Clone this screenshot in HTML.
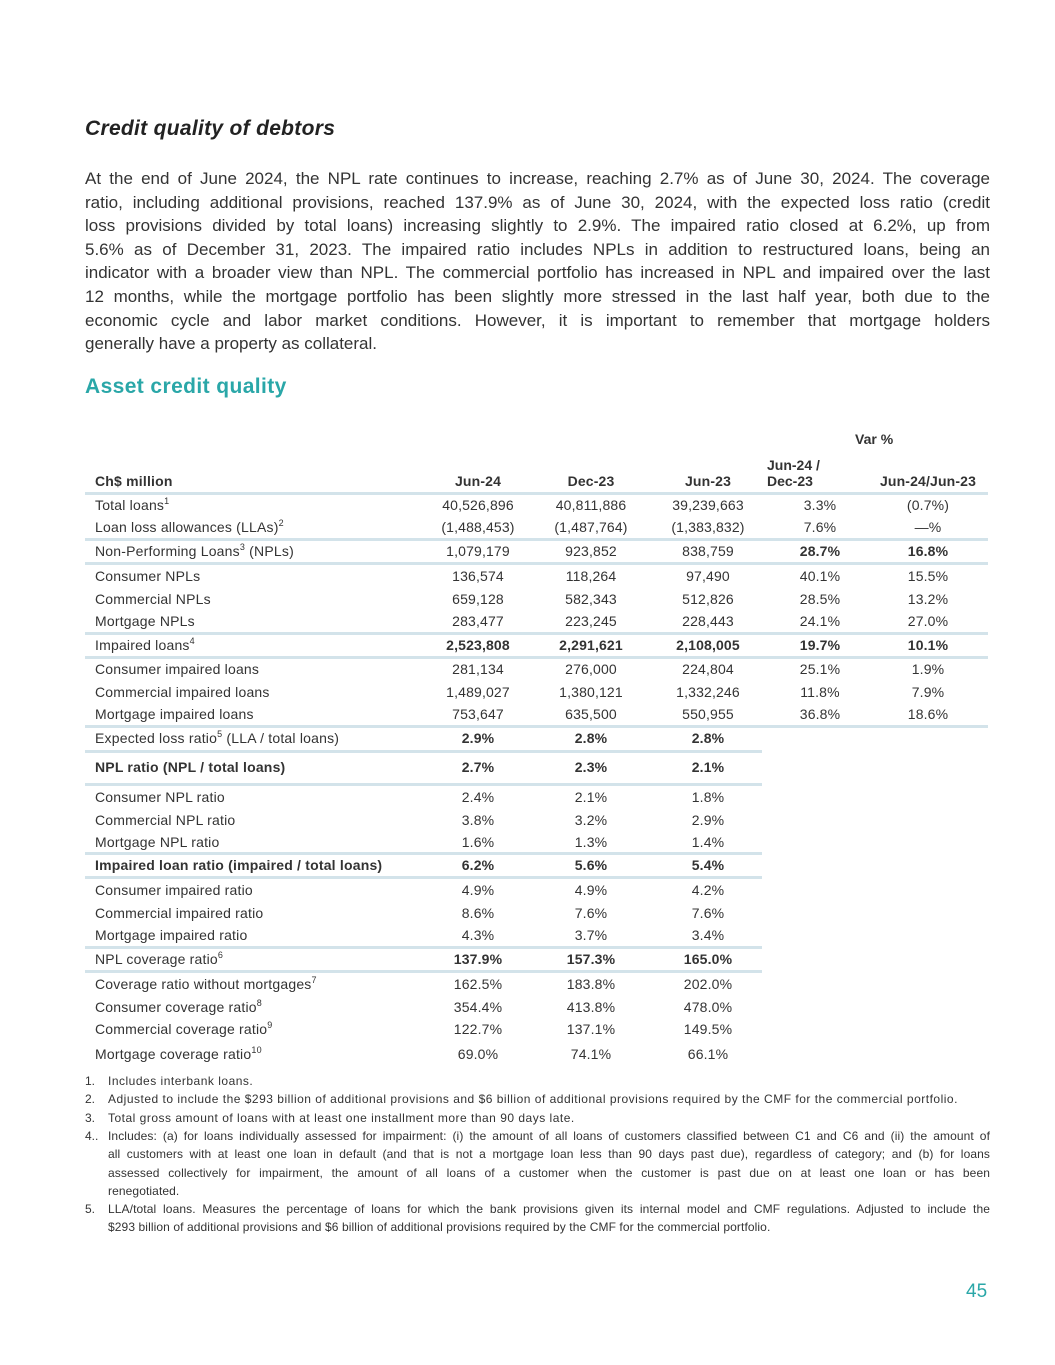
<!DOCTYPE html>
<html><head><meta charset="utf-8"><style>
body{margin:0;background:#fff;}
#p{position:relative;width:1055px;height:1365px;font-family:"Liberation Sans",sans-serif;color:#333;overflow:hidden}
.a{position:absolute;white-space:nowrap}
h1{position:absolute;left:85px;top:117px;margin:0;font-size:21px;font-style:italic;font-weight:bold;color:#222;letter-spacing:0.3px}
h2{position:absolute;left:85px;top:375px;margin:0;font-size:21px;font-weight:bold;color:#2aa7a8;letter-spacing:0.4px}
.para{position:absolute;left:85px;top:167px;width:905px;font-size:17px;line-height:23.6px;color:#333}
.para div,.jl{text-align:justify;text-align-last:justify;white-space:nowrap}
.para div.last,.jl.last{text-align-last:left}
.r{position:absolute;left:0;width:1055px;height:20px;line-height:20px;font-size:14px;letter-spacing:0.15px}
.r span{position:absolute;top:0}
.l{left:95px;letter-spacing:0.2px}
.c1{left:418px;width:120px;text-align:center}
.c2{left:531px;width:120px;text-align:center}
.c3{left:648px;width:120px;text-align:center}
.c4{left:770px;width:100px;text-align:center}
.c5{left:868px;width:120px;text-align:center}
.b{font-weight:bold}
.ln{position:absolute;left:85px;height:3px;background:#d3e3ea}
.w{width:903px}.n{width:677px}
sup{font-size:9px;vertical-align:6px;line-height:0}
.fn{position:absolute;left:85px;width:905px;font-size:12px;line-height:18.3px;letter-spacing:0.5px}
.fn .k{position:absolute;left:0;top:0;letter-spacing:0}
.fn .t{margin-left:23px}
.fn .jl{letter-spacing:0.1px}
</style></head><body><div id="p">
<h1>Credit quality of debtors</h1>
<div class="para">
<div>At the end of June 2024, the NPL rate continues to increase, reaching 2.7% as of June 30, 2024. The coverage</div>
<div>ratio, including additional provisions, reached 137.9% as of June 30, 2024, with the expected loss ratio (credit</div>
<div>loss provisions divided by total loans) increasing slightly to 2.9%. The impaired ratio closed at 6.2%, up from</div>
<div>5.6% as of December 31, 2023. The impaired ratio includes NPLs in addition to restructured loans, being an</div>
<div>indicator with a broader view than NPL. The commercial portfolio has increased in NPL and impaired over the last</div>
<div>12 months, while the mortgage portfolio has been slightly more stressed in the last half year, both due to the</div>
<div>economic cycle and labor market conditions. However, it is important to remember that mortgage holders</div>
<div class="last">generally have a property as collateral.</div>
</div>
<h2>Asset credit quality</h2>

<div class="a b" style="left:855px;top:431px;font-size:14px">Var %</div>
<div class="a b" style="left:767px;top:457px;font-size:14px;line-height:16px">Jun-24 /<br>Dec-23</div>
<div class="r b" style="top:471px"><span class="l">Ch$ million</span><span class="c1">Jun-24</span><span class="c2">Dec-23</span><span class="c3">Jun-23</span><span class="c5">Jun-24/Jun-23</span></div>
<div class="ln w" style="top:492px"></div>
<div class="r" style="top:495px"><span class="l">Total loans<sup>1</sup></span><span class="c1">40,526,896</span><span class="c2">40,811,886</span><span class="c3">39,239,663</span><span class="c4">3.3%</span><span class="c5">(0.7%)</span></div>
<div class="r" style="top:517px"><span class="l">Loan loss allowances (LLAs)<sup>2</sup></span><span class="c1">(1,488,453)</span><span class="c2">(1,487,764)</span><span class="c3">(1,383,832)</span><span class="c4">7.6%</span><span class="c5">—%</span></div>
<div class="ln w" style="top:538px"></div>
<div class="r" style="top:541px"><span class="l">Non-Performing Loans<sup>3</sup> (NPLs)</span><span class="c1">1,079,179</span><span class="c2">923,852</span><span class="c3">838,759</span><span class="c4 b">28.7%</span><span class="c5 b">16.8%</span></div>
<div class="ln w" style="top:562px"></div>
<div class="r" style="top:566px"><span class="l">Consumer NPLs</span><span class="c1">136,574</span><span class="c2">118,264</span><span class="c3">97,490</span><span class="c4">40.1%</span><span class="c5">15.5%</span></div>
<div class="r" style="top:589px"><span class="l">Commercial NPLs</span><span class="c1">659,128</span><span class="c2">582,343</span><span class="c3">512,826</span><span class="c4">28.5%</span><span class="c5">13.2%</span></div>
<div class="r" style="top:611px"><span class="l">Mortgage NPLs</span><span class="c1">283,477</span><span class="c2">223,245</span><span class="c3">228,443</span><span class="c4">24.1%</span><span class="c5">27.0%</span></div>
<div class="ln w" style="top:632px"></div>
<div class="r" style="top:635px"><span class="l">Impaired loans<sup>4</sup></span><span class="c1 b">2,523,808</span><span class="c2 b">2,291,621</span><span class="c3 b">2,108,005</span><span class="c4 b">19.7%</span><span class="c5 b">10.1%</span></div>
<div class="ln w" style="top:656px"></div>
<div class="r" style="top:659px"><span class="l">Consumer impaired loans</span><span class="c1">281,134</span><span class="c2">276,000</span><span class="c3">224,804</span><span class="c4">25.1%</span><span class="c5">1.9%</span></div>
<div class="r" style="top:682px"><span class="l">Commercial impaired loans</span><span class="c1">1,489,027</span><span class="c2">1,380,121</span><span class="c3">1,332,246</span><span class="c4">11.8%</span><span class="c5">7.9%</span></div>
<div class="r" style="top:704px"><span class="l">Mortgage impaired loans</span><span class="c1">753,647</span><span class="c2">635,500</span><span class="c3">550,955</span><span class="c4">36.8%</span><span class="c5">18.6%</span></div>
<div class="ln w" style="top:725px"></div>
<div class="r" style="top:728px"><span class="l">Expected loss ratio<sup>5</sup> (LLA / total loans)</span><span class="c1 b">2.9%</span><span class="c2 b">2.8%</span><span class="c3 b">2.8%</span></div>
<div class="ln n" style="top:750px"></div>
<div class="r b" style="top:757px"><span class="l">NPL ratio (NPL / total loans)</span><span class="c1">2.7%</span><span class="c2">2.3%</span><span class="c3">2.1%</span></div>
<div class="ln n" style="top:783px"></div>
<div class="r" style="top:787px"><span class="l">Consumer NPL ratio</span><span class="c1">2.4%</span><span class="c2">2.1%</span><span class="c3">1.8%</span></div>
<div class="r" style="top:810px"><span class="l">Commercial NPL ratio</span><span class="c1">3.8%</span><span class="c2">3.2%</span><span class="c3">2.9%</span></div>
<div class="r" style="top:832px"><span class="l">Mortgage NPL ratio</span><span class="c1">1.6%</span><span class="c2">1.3%</span><span class="c3">1.4%</span></div>
<div class="ln n" style="top:852px"></div>
<div class="r b" style="top:855px"><span class="l">Impaired loan ratio (impaired / total loans)</span><span class="c1">6.2%</span><span class="c2">5.6%</span><span class="c3">5.4%</span></div>
<div class="ln n" style="top:876px"></div>
<div class="r" style="top:880px"><span class="l">Consumer impaired ratio</span><span class="c1">4.9%</span><span class="c2">4.9%</span><span class="c3">4.2%</span></div>
<div class="r" style="top:903px"><span class="l">Commercial impaired ratio</span><span class="c1">8.6%</span><span class="c2">7.6%</span><span class="c3">7.6%</span></div>
<div class="r" style="top:925px"><span class="l">Mortgage impaired ratio</span><span class="c1">4.3%</span><span class="c2">3.7%</span><span class="c3">3.4%</span></div>
<div class="ln n" style="top:946px"></div>
<div class="r" style="top:949px"><span class="l">NPL coverage ratio<sup>6</sup></span><span class="c1 b">137.9%</span><span class="c2 b">157.3%</span><span class="c3 b">165.0%</span></div>
<div class="ln n" style="top:970px"></div>
<div class="r" style="top:974px"><span class="l">Coverage ratio without mortgages<sup>7</sup></span><span class="c1">162.5%</span><span class="c2">183.8%</span><span class="c3">202.0%</span></div>
<div class="r" style="top:997px"><span class="l">Consumer coverage ratio<sup>8</sup></span><span class="c1">354.4%</span><span class="c2">413.8%</span><span class="c3">478.0%</span></div>
<div class="r" style="top:1019px"><span class="l">Commercial coverage ratio<sup>9</sup></span><span class="c1">122.7%</span><span class="c2">137.1%</span><span class="c3">149.5%</span></div>
<div class="r" style="top:1044px"><span class="l">Mortgage coverage ratio<sup>10</sup></span><span class="c1">69.0%</span><span class="c2">74.1%</span><span class="c3">66.1%</span></div>

<div class="fn" style="top:1072px"><span class="k">1.</span><div class="t">Includes interbank loans.</div></div>
<div class="fn" style="top:1090px"><span class="k">2.</span><div class="t">Adjusted to include the $293 billion of additional provisions and $6 billion of additional provisions required by the CMF for the commercial portfolio.</div></div>
<div class="fn" style="top:1109px"><span class="k">3.</span><div class="t">Total gross amount of loans with at least one installment more than 90 days late.</div></div>
<div class="fn" style="top:1127px"><span class="k">4..</span><div class="t">
<div class="jl">Includes: (a) for loans individually assessed for impairment: (i) the amount of all loans of customers classified between C1 and C6 and (ii) the amount of</div>
<div class="jl">all customers with at least one loan in default (and that is not a mortgage loan less than 90 days past due), regardless of category; and (b) for loans</div>
<div class="jl">assessed collectively for impairment, the amount of all loans of a customer when the customer is past due on at least one loan or has been</div>
<div class="jl last">renegotiated.</div></div></div>
<div class="fn" style="top:1200px"><span class="k">5.</span><div class="t">
<div class="jl">LLA/total loans. Measures the percentage of loans for which the bank provisions given its internal model and CMF regulations. Adjusted to include the</div>
<div class="jl last">$293 billion of additional provisions and $6 billion of additional provisions required by the CMF for the commercial portfolio.</div></div></div>

<div class="a" style="left:966px;top:1281px;font-size:19px;color:#2aa7a8">45</div>
</div></body></html>
